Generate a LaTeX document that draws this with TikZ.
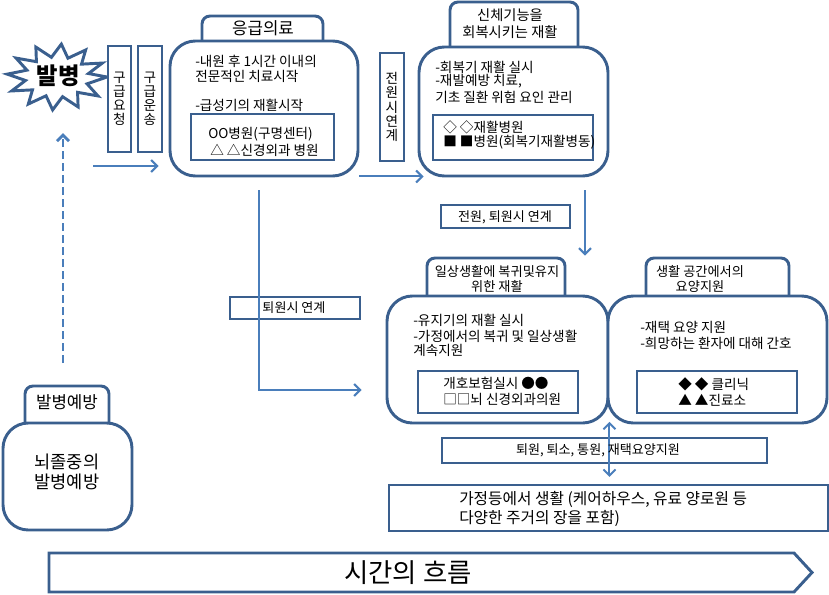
\documentclass[tikz,border=0pt]{standalone}
\usepackage{fontspec}
\setmainfont{Noto Sans CJK KR}
\usetikzlibrary{arrows.meta,fit}
\definecolor{bd}{HTML}{3A5F8E}
\definecolor{ar}{HTML}{4A7EBB}
\begin{document}
\begin{tikzpicture}[x=0.75pt,y=-0.75pt,
  box/.style={draw=bd, line width=2.2pt, fill=white, inner sep=0pt},
  rbox/.style={box, rounded corners=19pt},
  tbox/.style={box, rounded corners=6pt},
  txt/.style={inner sep=0pt, anchor=west, font=\fontsize{10.2}{11}\selectfont},
  ctxt/.style={inner sep=0pt, align=center, font=\fontsize{9.9}{11.25}\selectfont},
  vtxt/.style={inner sep=0pt, align=center, font=\fontsize{10.2}{10.6}\selectfont},
  flow/.style={draw=ar, line width=1.5pt, -{Straight Barb[length=4.5pt,width=9pt]}},
]
\useasboundingbox (0,0) rectangle (829,594);

% starburst
\path[draw=bd, line width=2.2pt, fill=white] (107,77)
  \foreach \i in {1,...,23}{ -- ({57+(isodd(\i)?32:50)*cos(\i*15+5)}, {77+(isodd(\i)?20:33)*sin(\i*15+5)}) } -- cycle;
\node[inner sep=0pt, font=\fontsize{17.5}{20}\selectfont\bfseries] (bb) at (58,76) {발병};

% vertical boxes
\node[box, fit={(108,46)(131,152)}] (q1) {};
\node[vtxt] (q1t) at (119.5,99) {구\\급\\요\\청};
\node[box, fit={(138,46)(162,152)}] (q2) {};
\node[vtxt] (q2t) at (150,99) {구\\급\\운\\송};
\node[box, fit={(380,53)(404,161)}] (q3) {};
\node[vtxt] (q3t) at (392,107) {전\\원\\시\\연\\계};

% box 1
\node[tbox, fit={(202,16)(323,50)}] (t1) {};
\node[inner sep=0pt, font=\fontsize{12.6}{14}\selectfont] (t1t) at (263,28) {응급의료};
\node[rbox, fit={(170,41)(358,176)}] (m1) {};
\node[txt] (m1a) at (195,61) {-내원 후 1시간 이내의};
\node[txt] (m1b) at (195,76) {전문적인 치료시작};
\node[txt] (m1c) at (195,105) {-급성기의 재활시작};
\node[box, fit={(191,114)(334,160)}] (i1) {};
\node[txt] (i1a) at (208,134) {OO병원(구명센터)};
\node[txt] (i1b) at (210,150) {△ △신경외과 병원};

% box 2
\node[tbox, fit={(450,2)(578,55)}] (t2) {};
\node[inner sep=0pt, align=center, font=\fontsize{10.7}{12.75}\selectfont] (t2t) at (510,23.5) {신체기능을\\회복시키는 재활};
\node[rbox, fit={(419,47)(608,176)}] (m2) {};
\node[txt] (m2a) at (435,67) {-회복기 재활 실시};
\node[txt] (m2b) at (435,81) {-재발예방 치료,};
\node[txt] (m2c) at (435,97) {기초 질환 위험 요인 관리};
\node[box, fit={(433,115)(593,160)}] (i2) {};
\node[txt] (i2a) at (443,127) {◇ ◇재활병원};
\node[txt] (i2b) at (443,142) {■ ■병원(회복기재활병동)};

% arrows top row
\coordinate (a0) at (93,166);
\draw[flow] (a0) -- ([xshift=-7.5pt]m1.west |- a0);
\draw[flow] ([yshift=0.75pt]m1.south east) -- ([xshift=4.5pt,yshift=0.75pt]m2.south west);

% box 3 and 4 titles
\node[tbox, fit={(427,258)(565,305)}] (t3) {};
\node[ctxt] (t3t) at (497,278.5) {일상생활에 복귀및유지\\위한 재활};
\node[tbox, fit={(646,258)(789,305)}] (t4) {};
\node[ctxt] (t4t) at (700,278.5) {생활 공간에서의\\요양지원};

% link 2 -> 3
\coordinate (c1) at (585,190);
\draw[flow] (c1) -- ([yshift=0.75pt]c1 |- t3.north);
\node[box, fit={(441,205)(570,228)}] (l1) {};
\node[inner sep=0pt, font=\fontsize{9.8}{11}\selectfont] (l1t) at (505,217) {전원, 퇴원시 연계};

% main 3, 4
\node[rbox, fit={(387,296)(608,423)}] (m3) {};
\node[rbox, fit={(608,296)(827,423)}] (m4) {};
\node[txt] (m3a) at (413,320) {-유지기의 재활 실시};
\node[txt] (m3b) at (413,336) {-가정에서의 복귀 및 일상생활};
\node[txt] (m3c) at (413,350) {계속지원};
\node[box, fit={(418,371)(578,413)}] (i3) {};
\node[txt] (i3a) at (443,383) {개호보험실시 ●●};
\node[txt] (i3b) at (443,399) {□□뇌 신경외과의원};
\node[txt] (m4a) at (640,327) {-재택 요양 지원};
\node[txt] (m4b) at (640,343) {-희망하는 환자에 대해 간호};
\node[box, fit={(637,371)(797,413)}] (i4) {};
\node[txt] (i4a) at (678,384) {◆ ◆ 클리닉};
\node[txt] (i4b) at (678,400) {▲ ▲진료소};

% link 1 -> 3
\node[box, fit={(230,297)(360,319)}] (l2) {};
\coordinate (c2) at (259,190);
\draw[flow] (c2) |- ([xshift=-18pt]m3.west |- 0,390);
\node[inner sep=0pt, font=\fontsize{9.8}{11}\selectfont] (l2t) at (294,308) {퇴원시 연계};

% prevention
\node[tbox, fit={(25,386)(109,430)}] (t5) {};
\node[inner sep=0pt, font=\fontsize{12.6}{14}\selectfont] (t5t) at (67,402) {발병예방};
\node[rbox, fit={(3,423)(132,530)}] (m5) {};
\node[inner sep=0pt, align=center, font=\fontsize{13.2}{14.5}\selectfont] (m5t) at (67,472) {뇌졸중의\\발병예방};
\coordinate (c3) at (63,363);
\coordinate (c4) at (63,133);
\draw[draw=ar, line width=2.2pt, dash pattern=on 6pt off 3pt, -{Straight Barb[length=4.5pt,width=9pt]}] (c3) -- (c4);

% home
\node[box, fit={(442,438)(767,463)}] (l3) {};
\node[box, fit={(389,485)(828,531)}] (g) {};
\node[inner sep=0pt, anchor=west, font=\fontsize{11.8}{12}\selectfont] (ga) at (459,499) {가정등에서 생활 (케어하우스, 유료 양로원 등};
\node[inner sep=0pt, anchor=west, font=\fontsize{11.8}{12}\selectfont] (gb) at (459,518) {다양한 주거의 장을 포함)};
\draw[draw=ar, line width=1.5pt, {Straight Barb[length=4.5pt,width=9pt]}-{Straight Barb[length=4.5pt,width=9pt]}] ([yshift=2pt]m3.south east) -- ([yshift=5pt]g.north -| m3.south east);
\node[inner sep=0pt, font=\fontsize{9.8}{11}\selectfont] (l3t) at (598,450) {퇴원, 퇴소, 통원, 재택요양지원};

% time flow
\draw[bd, line width=2.2pt, fill=white] (49,553) -- (794,553) -- (812,572.5) -- (794,592) -- (49,592) -- cycle;
\node[inner sep=0pt, font=\fontsize{19.8}{22}\selectfont] (tf) at (408,573) {시간의 흐름};
\end{tikzpicture}
\end{document}
